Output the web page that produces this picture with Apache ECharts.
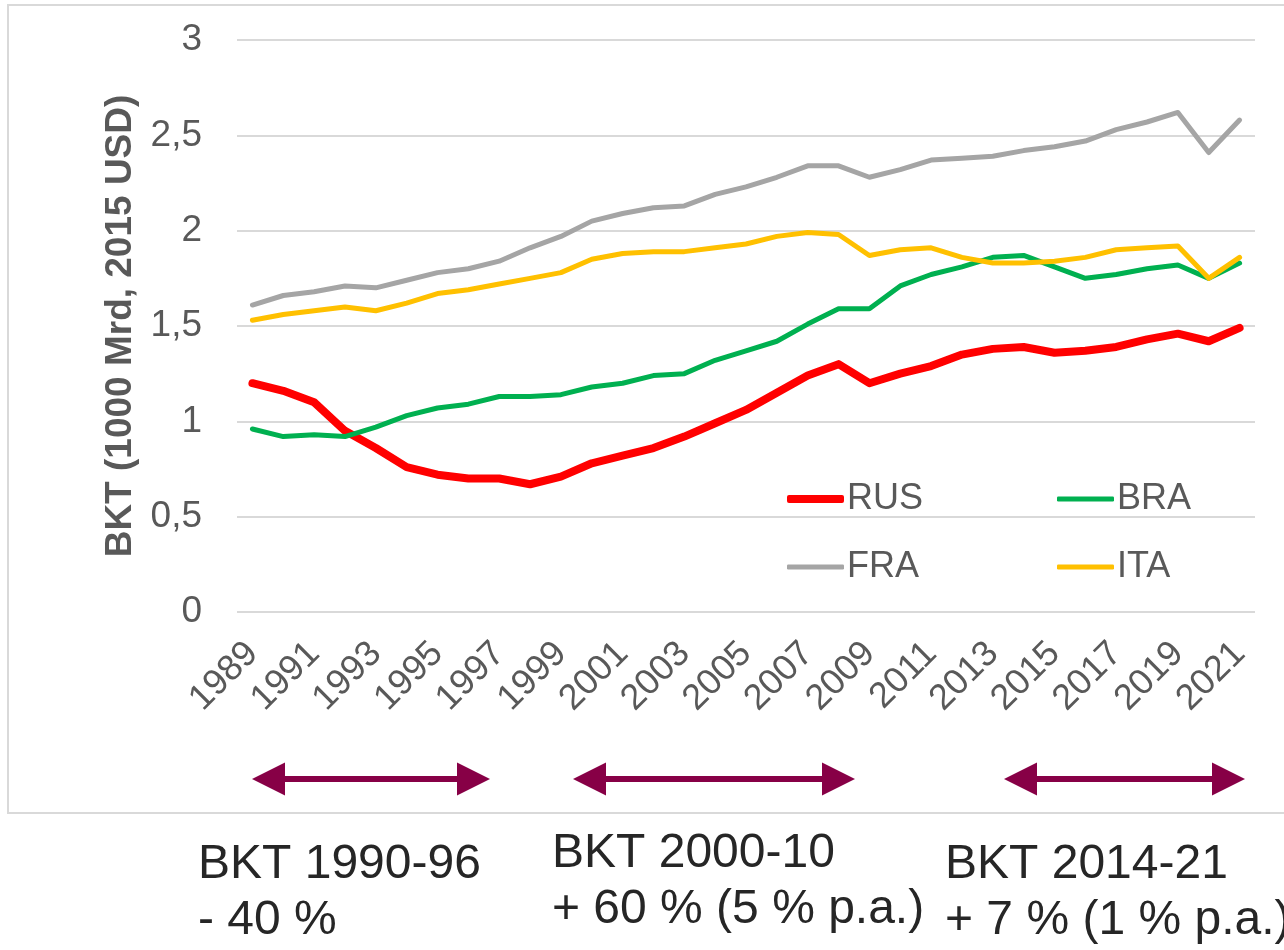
<!DOCTYPE html>
<html>
<head>
<meta charset="utf-8">
<style>
html,body{margin:0;padding:0;background:#fff;}
#chart{width:1284px;height:950px;}
</style>
<script src="https://cdn.jsdelivr.net/npm/echarts@6/dist/echarts.min.js"></script>
</head>
<body>
<div id="chart"></div>
<script>
const years = ['1989','1990','1991','1992','1993','1994','1995','1996','1997','1998','1999','2000','2001','2002','2003','2004','2005','2006','2007','2008','2009','2010','2011','2012','2013','2014','2015','2016','2017','2018','2019','2020','2021'];
const rus = [1.20,1.16,1.10,0.95,0.86,0.76,0.72,0.70,0.70,0.67,0.71,0.78,0.82,0.86,0.92,0.99,1.06,1.15,1.24,1.30,1.20,1.25,1.29,1.35,1.38,1.39,1.36,1.37,1.39,1.43,1.46,1.42,1.49];
const bra = [0.96,0.92,0.93,0.92,0.97,1.03,1.07,1.09,1.13,1.13,1.14,1.18,1.20,1.24,1.25,1.32,1.37,1.42,1.51,1.59,1.59,1.71,1.77,1.81,1.86,1.87,1.81,1.75,1.77,1.80,1.82,1.75,1.83];
const fra = [1.61,1.66,1.68,1.71,1.70,1.74,1.78,1.80,1.84,1.91,1.97,2.05,2.09,2.12,2.13,2.19,2.23,2.28,2.34,2.34,2.28,2.32,2.37,2.38,2.39,2.42,2.44,2.47,2.53,2.57,2.62,2.41,2.58];
const ita = [1.53,1.56,1.58,1.60,1.58,1.62,1.67,1.69,1.72,1.75,1.78,1.85,1.88,1.89,1.89,1.91,1.93,1.97,1.99,1.98,1.87,1.90,1.91,1.86,1.83,1.83,1.84,1.86,1.90,1.91,1.92,1.75,1.86];
const seriesNames = ['RUS','BRA','FRA','ITA'];
const yAxisName = 'BKT (1000 Mrd, 2015 USD)';
const notes = [
  ['BKT 1990-96', '- 40 %'],
  ['BKT 2000-10', '+ 60 % (5 % p.a.)'],
  ['BKT 2014-21', '+ 7 % (1 % p.a.)']
];

const FONT = "'Liberation Sans', Arial, sans-serif";
const colors = {RUS:'#FF0000', BRA:'#00B050', FRA:'#A5A5A5', ITA:'#FFC000'};
const widths = {RUS:8, BRA:5, FRA:5, ITA:5};
const dataMap = {RUS:rus, BRA:bra, FRA:fra, ITA:ita};

const chart = echarts.init(document.getElementById('chart'), null, {renderer:'canvas'});

function legendFor(name, left, top) {
  return {
    data:[{name:name, icon:'roundRect'}],
    left:left, top:top, padding:0,
    itemWidth:57, itemHeight:widths[name],
    selectedMode:false,
    textStyle:{fontSize:36, color:'#595959', fontFamily:FONT, padding:[0,0,0,-2]}
  };
}

function arrow(x1, x2, cy, color) {
  const hw = 33, hh = 16.5, st = 3;
  return {
    type:'polygon',
    shape:{points:[
      [x1, cy], [x1+hw, cy-hh], [x1+hw, cy-st], [x2-hw, cy-st], [x2-hw, cy-hh],
      [x2, cy], [x2-hw, cy+hh], [x2-hw, cy+st], [x1+hw, cy+st], [x1+hw, cy+hh]
    ]},
    style:{fill:color},
    silent:true
  };
}

const noteX = [198, 552, 945];
const noteY = [[866, 922], [855, 911], [866, 922]];
const graphics = [
  {type:'rect', shape:{x:8, y:5, width:1290, height:808}, style:{fill:null, stroke:'#d9d9d9', lineWidth:2}, silent:true, z:-10},
  arrow(252, 490, 779, '#870046'),
  arrow(573, 855, 779, '#870046'),
  arrow(1004, 1245, 779, '#870046')
];
notes.forEach((lines, i) => {
  lines.forEach((t, j) => {
    graphics.push({
      type:'text', left:noteX[i], top:noteY[i][j] - 25,
      style:{text:t, fontSize:48, fontFamily:FONT, fill:'#262626'},
      silent:true
    });
  });
});

const option = {
  backgroundColor:'#ffffff',
  animation:false,
  grid:{left:237, right:29, top:40, bottom:338, containLabel:false},
  legend:[
    legendFor('RUS', 787, 481),
    legendFor('BRA', 1057, 481),
    legendFor('FRA', 787, 549),
    legendFor('ITA', 1057, 549)
  ],
  xAxis:{
    type:'category', data:years, boundaryGap:true,
    axisLine:{show:false}, axisTick:{show:false},
    axisLabel:{interval:1, rotate:45, margin:36, fontSize:36, color:'#595959', fontFamily:FONT}
  },
  yAxis:{
    type:'value', min:0, max:3, interval:0.5,
    name:yAxisName, nameLocation:'middle', nameGap:95, nameRotate:90,
    nameTextStyle:{fontSize:37, fontWeight:'bold', color:'#595959', fontFamily:FONT},
    axisLine:{show:false}, axisTick:{show:false},
    axisLabel:{margin:35, fontSize:37, color:'#595959', fontFamily:FONT,
      formatter:v => String(v).replace('.', ',')},
    splitLine:{lineStyle:{color:'#d9d9d9', width:2}}
  },
  graphic:graphics,
  series:seriesNames.map(n => ({
    name:n, type:'line', data:dataMap[n],
    showSymbol:false, symbol:'none',
    lineStyle:{color:colors[n], width:widths[n], cap:'round', join:'round'},
    itemStyle:{color:colors[n]},
    emphasis:{disabled:true}
  }))
};
chart.setOption(option);
</script>
</body>
</html>
